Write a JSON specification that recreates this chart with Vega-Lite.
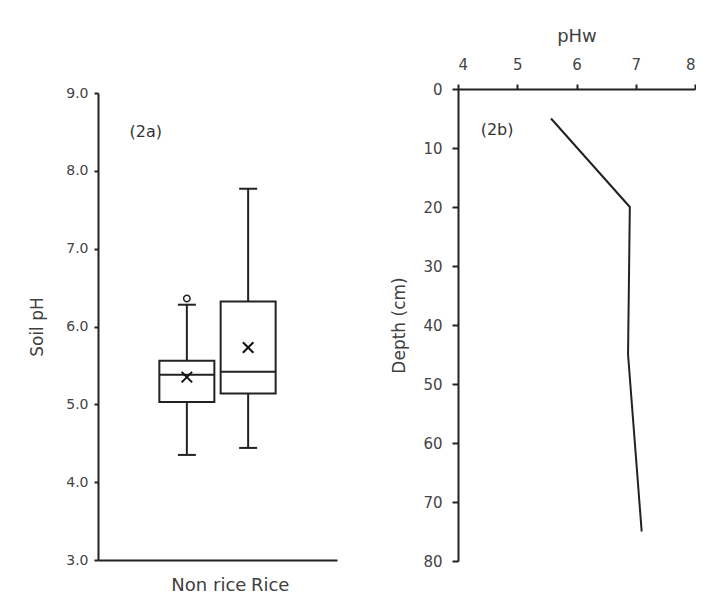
{
  "$schema": "https://vega.github.io/schema/vega-lite/v6.json",
  "padding": {"left": 28, "top": 27, "right": 0, "bottom": 0},
  "background": "white",
  "config": {
    "view": {"stroke": null},
    "font": "DejaVu Sans",
    "axis": {"grid": false, "domainColor": "#222222", "domainWidth": 2, "tickColor": "#222222", "tickWidth": 2, "labelColor": "#444444", "titleColor": "#404040", "labelFont": "DejaVu Sans", "titleFont": "DejaVu Sans", "titleFontWeight": "normal"}
  },
  "spacing": 53,
  "hconcat": [
    {
      "width": 239,
      "height": 471,
      "data": {"values": [
        {"group": "Non rice", "min": 4.35, "q1": 5.03, "median": 5.38, "q3": 5.56, "max": 6.28, "mean": 5.35, "outlier": 6.36},
        {"group": "Rice", "min": 4.44, "q1": 5.14, "median": 5.42, "q3": 6.32, "max": 7.77, "mean": 5.73, "outlier": null}
      ]},
      "encoding": {
        "x": {"field": "group", "type": "nominal", "sort": ["Non rice", "Rice"],
          "scale": {"type": "band", "paddingInner": 0.1, "paddingOuter": 1.04},
          "axis": {"title": null, "ticks": false, "labelAngle": 0, "labelFontSize": 18, "labelColor": "#404040", "labelPadding": 16, "labelOffset": 22}}
      },
      "layer": [
        {
          "mark": {"type": "rule", "color": "#222222", "strokeWidth": 2},
          "encoding": {
            "y": {"field": "min", "type": "quantitative",
              "scale": {"domain": [3, 9], "range": [471, 4], "zero": false, "nice": false},
              "axis": {"title": "Soil pH", "values": [3, 4, 5, 6, 7, 8, 9], "format": ".1f", "tickSize": 4, "labelPadding": 6, "labelFontSize": 14, "titleFontSize": 17, "titlePadding": 19}},
            "y2": {"field": "max"}
          }
        },
        {
          "mark": {"type": "bar", "width": 55, "fill": "white", "stroke": "#222222", "strokeWidth": 2, "opacity": 1},
          "encoding": {"y": {"field": "q1", "type": "quantitative"}, "y2": {"field": "q3"}}
        },
        {
          "mark": {"type": "tick", "size": 55, "thickness": 2, "color": "#222222", "opacity": 1},
          "encoding": {"y": {"field": "median", "type": "quantitative"}}
        },
        {
          "mark": {"type": "tick", "size": 18, "thickness": 2, "color": "#222222", "opacity": 1},
          "encoding": {"y": {"field": "max", "type": "quantitative"}}
        },
        {
          "mark": {"type": "tick", "size": 18, "thickness": 2, "color": "#222222", "opacity": 1},
          "encoding": {"y": {"field": "min", "type": "quantitative"}}
        },
        {
          "mark": {"type": "point", "shape": "M-1,-1L1,1M-1,1L1,-1", "filled": false, "size": 110, "stroke": "#111111", "strokeWidth": 2, "opacity": 1},
          "encoding": {"y": {"field": "mean", "type": "quantitative"}}
        },
        {
          "mark": {"type": "point", "shape": "circle", "filled": false, "size": 42, "stroke": "#222222", "strokeWidth": 1.5, "opacity": 1},
          "encoding": {"y": {"field": "outlier", "type": "quantitative"}}
        },
        {
          "data": {"values": [{"label": "(2a)", "group": "Non rice", "y": 8.5}]},
          "mark": {"type": "text", "fontSize": 16, "color": "#333333", "dx": -41},
          "encoding": {"y": {"field": "y", "type": "quantitative"}, "text": {"field": "label"}}
        }
      ]
    },
    {
      "width": 237,
      "height": 472,
      "data": {"values": [
        {"pHw": 5.57, "depth": 5},
        {"pHw": 6.9, "depth": 20},
        {"pHw": 6.87, "depth": 45},
        {"pHw": 7.1, "depth": 75}
      ]},
      "layer": [
        {
          "mark": {"type": "line", "color": "#222222", "strokeWidth": 2},
          "encoding": {
            "x": {"field": "pHw", "type": "quantitative", "scale": {"domain": [4, 8], "zero": false, "nice": false},
              "axis": {"orient": "top", "title": "pHw", "values": [4, 5, 6, 7, 8], "format": "d", "tickSize": 5, "labelPadding": 12, "labelFontSize": 15, "titleFontSize": 18, "titlePadding": 12}},
            "y": {"field": "depth", "type": "quantitative", "sort": null, "scale": {"domain": [0, 80], "reverse": true, "nice": false},
              "axis": {"title": "Depth (cm)", "values": [0, 10, 20, 30, 40, 50, 60, 70, 80], "tickSize": 6, "labelPadding": 10, "labelFontSize": 15, "titleFontSize": 17, "titlePadding": 14}},
            "order": {"field": "depth"}
          }
        },
        {
          "data": {"values": [{"label": "(2b)", "pHw": 4.66, "depth": 7}]},
          "mark": {"type": "text", "fontSize": 16, "color": "#333333"},
          "encoding": {
            "x": {"field": "pHw", "type": "quantitative"},
            "y": {"field": "depth", "type": "quantitative"},
            "text": {"field": "label"}
          }
        }
      ]
    }
  ]
}
